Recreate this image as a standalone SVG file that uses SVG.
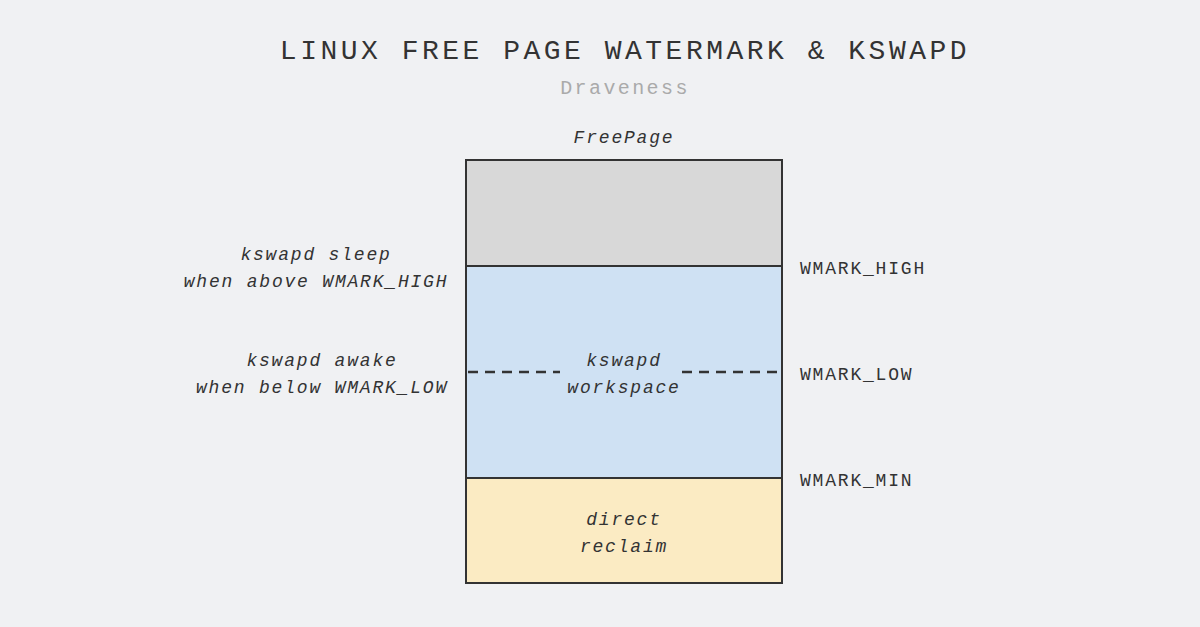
<svg xmlns="http://www.w3.org/2000/svg" width="1200" height="627" viewBox="0 0 1200 627">
<style>
text{font-family:"Liberation Mono","DejaVu Sans Mono",monospace;fill:#333}
.t{font-size:28px;letter-spacing:3.5px}
.s{font-size:20px;letter-spacing:2.4px;fill:#aaa}
.l{font-size:18px;letter-spacing:1.8px;font-style:italic}
.r{font-size:18px;letter-spacing:1.8px}
.b{stroke:#333;stroke-width:2}
</style>
<rect width="1200" height="627" fill="#f0f1f3"/>
<text class="t" x="625" y="59" text-anchor="middle">LINUX FREE PAGE WATERMARK &amp; KSWAPD</text>
<text class="s" x="625" y="94" text-anchor="middle">Draveness</text>
<text class="l" x="624" y="143" text-anchor="middle">FreePage</text>
<g id="high"><rect class="b" x="466" y="160" width="316" height="106" fill="#d8d8d8"/></g>
<g id="workspace"><rect class="b" x="466" y="266" width="316" height="212" fill="#cfe1f3"/>
<text class="l" x="624" y="366" text-anchor="middle">kswapd</text>
<text class="l" x="624" y="393" text-anchor="middle">workspace</text></g>
<g id="direct"><rect class="b" x="466" y="478" width="316" height="105" fill="#fbebc3"/>
<text class="l" x="624" y="525" text-anchor="middle">direct</text>
<text class="l" x="624" y="552" text-anchor="middle">reclaim</text></g>
<g id="connectors"><path d="M468 372H560M682 372H780" stroke="#333" stroke-width="2.5" stroke-dasharray="10,7"/></g>
<g id="labels">
<text class="l" x="316" y="260" text-anchor="middle">kswapd sleep</text>
<text class="l" x="316" y="287" text-anchor="middle">when above WMARK_HIGH</text>
<text class="l" x="322" y="366" text-anchor="middle">kswapd awake</text>
<text class="l" x="322" y="393" text-anchor="middle">when below WMARK_LOW</text>
<text class="r" x="800" y="274">WMARK_HIGH</text>
<text class="r" x="800" y="380">WMARK_LOW</text>
<text class="r" x="800" y="486">WMARK_MIN</text>
</g>
</svg>
